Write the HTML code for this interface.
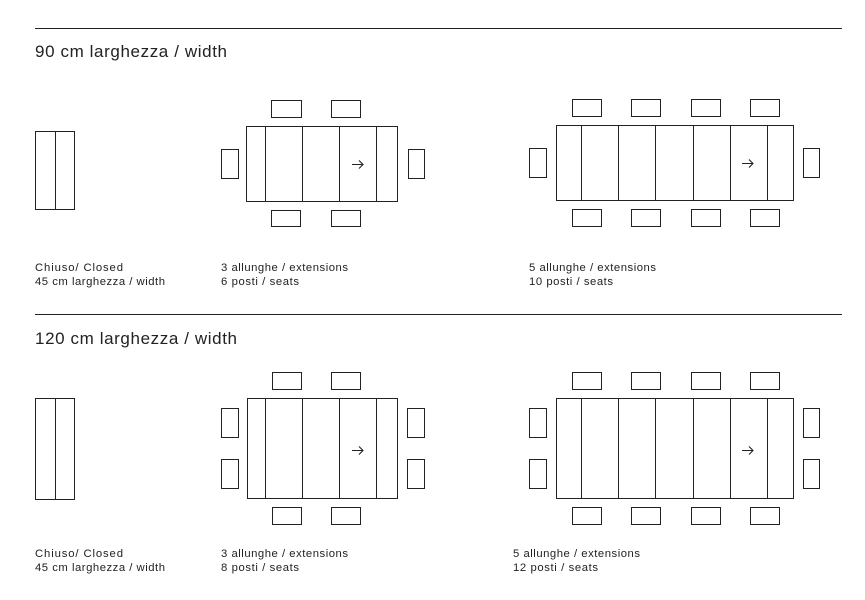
<!DOCTYPE html>
<html><head><meta charset="utf-8"><style>
body{margin:0;background:#fff;width:865px;height:595px;overflow:hidden}
svg text{font-family:"Liberation Sans",sans-serif;fill:#222}
</style></head><body>
<svg width="865" height="595" viewBox="0 0 865 595" xmlns="http://www.w3.org/2000/svg">
<g stroke="#222" stroke-width="1" fill="none" shape-rendering="crispEdges">
<line x1="35" y1="28.5" x2="842" y2="28.5"/>
<line x1="35" y1="314.5" x2="842" y2="314.5"/>
<rect x="35.5" y="131.5" width="39" height="78"/><line x1="55.5" y1="131" x2="55.5" y2="210"/>
<rect x="246.5" y="126.5" width="151" height="75"/>
<line x1="265.5" y1="126" x2="265.5" y2="202"/><line x1="302.5" y1="126" x2="302.5" y2="202"/><line x1="339.5" y1="126" x2="339.5" y2="202"/><line x1="376.5" y1="126" x2="376.5" y2="202"/>
<rect x="271.5" y="100.5" width="30" height="17"/><rect x="331.5" y="100.5" width="29" height="17"/>
<rect x="271.5" y="210.5" width="29" height="16"/><rect x="331.5" y="210.5" width="29" height="16"/>
<rect x="221.5" y="149.5" width="17" height="29"/><rect x="408.5" y="149.5" width="16" height="29"/>
<rect x="556.5" y="125.5" width="237" height="75"/>
<line x1="581.5" y1="125" x2="581.5" y2="201"/><line x1="618.5" y1="125" x2="618.5" y2="201"/><line x1="655.5" y1="125" x2="655.5" y2="201"/><line x1="693.5" y1="125" x2="693.5" y2="201"/><line x1="730.5" y1="125" x2="730.5" y2="201"/><line x1="767.5" y1="125" x2="767.5" y2="201"/>
<rect x="572.5" y="99.5" width="29" height="17"/><rect x="631.5" y="99.5" width="29" height="17"/><rect x="691.5" y="99.5" width="29" height="17"/><rect x="750.5" y="99.5" width="29" height="17"/>
<rect x="572.5" y="209.5" width="29" height="17"/><rect x="631.5" y="209.5" width="29" height="17"/><rect x="691.5" y="209.5" width="29" height="17"/><rect x="750.5" y="209.5" width="29" height="17"/>
<rect x="529.5" y="148.5" width="17" height="29"/><rect x="803.5" y="148.5" width="16" height="29"/>
<rect x="35.5" y="398.5" width="39" height="101"/><line x1="55.5" y1="398" x2="55.5" y2="500"/>
<rect x="247.5" y="398.5" width="150" height="100"/>
<line x1="265.5" y1="398" x2="265.5" y2="499"/><line x1="302.5" y1="398" x2="302.5" y2="499"/><line x1="339.5" y1="398" x2="339.5" y2="499"/><line x1="376.5" y1="398" x2="376.5" y2="499"/>
<rect x="272.5" y="372.5" width="29" height="17"/><rect x="331.5" y="372.5" width="29" height="17"/>
<rect x="272.5" y="507.5" width="29" height="17"/><rect x="331.5" y="507.5" width="29" height="17"/>
<rect x="221.5" y="408.5" width="17" height="29"/><rect x="221.5" y="459.5" width="17" height="29"/>
<rect x="407.5" y="408.5" width="17" height="29"/><rect x="407.5" y="459.5" width="17" height="29"/>
<rect x="556.5" y="398.5" width="237" height="100"/>
<line x1="581.5" y1="398" x2="581.5" y2="499"/><line x1="618.5" y1="398" x2="618.5" y2="499"/><line x1="655.5" y1="398" x2="655.5" y2="499"/><line x1="693.5" y1="398" x2="693.5" y2="499"/><line x1="730.5" y1="398" x2="730.5" y2="499"/><line x1="767.5" y1="398" x2="767.5" y2="499"/>
<rect x="572.5" y="372.5" width="29" height="17"/><rect x="631.5" y="372.5" width="29" height="17"/><rect x="691.5" y="372.5" width="29" height="17"/><rect x="750.5" y="372.5" width="29" height="17"/>
<rect x="572.5" y="507.5" width="29" height="17"/><rect x="631.5" y="507.5" width="29" height="17"/><rect x="691.5" y="507.5" width="29" height="17"/><rect x="750.5" y="507.5" width="29" height="17"/>
<rect x="529.5" y="408.5" width="17" height="29"/><rect x="529.5" y="459.5" width="17" height="29"/>
<rect x="803.5" y="408.5" width="16" height="29"/><rect x="803.5" y="459.5" width="16" height="29"/>
</g>
<g stroke="#222" stroke-width="1.1" fill="none">
<path d="M352 164.5h11M359 160.5l4 4-4 4"/>
<path d="M742 163.5h11M749 159.5l4 4-4 4"/>
<path d="M352 450.5h11M359 446.5l4 4-4 4"/>
<path d="M742 450.5h11M749 446.5l4 4-4 4"/>
</g>
<text x="35" y="57" font-size="17" textLength="192" lengthAdjust="spacing">90 cm larghezza / width</text>
<text x="35" y="344" font-size="17" textLength="202" lengthAdjust="spacing">120 cm larghezza / width</text>
<g font-size="11.3">
<text x="35" y="271" textLength="88" lengthAdjust="spacing">Chiuso/ Closed</text><text x="35" y="285" textLength="130" lengthAdjust="spacing">45 cm larghezza / width</text>
<text x="221" y="271" textLength="127" lengthAdjust="spacing">3 allunghe / extensions</text><text x="221" y="285" textLength="78" lengthAdjust="spacing">6 posti / seats</text>
<text x="529" y="271" textLength="127" lengthAdjust="spacing">5 allunghe / extensions</text><text x="529" y="285" textLength="84" lengthAdjust="spacing">10 posti / seats</text>
<text x="35" y="557" textLength="88" lengthAdjust="spacing">Chiuso/ Closed</text><text x="35" y="571" textLength="130" lengthAdjust="spacing">45 cm larghezza / width</text>
<text x="221" y="557" textLength="127" lengthAdjust="spacing">3 allunghe / extensions</text><text x="221" y="571" textLength="78" lengthAdjust="spacing">8 posti / seats</text>
<text x="513" y="557" textLength="127" lengthAdjust="spacing">5 allunghe / extensions</text><text x="513" y="571" textLength="85" lengthAdjust="spacing">12 posti / seats</text>
</g>
</svg>
</body></html>
